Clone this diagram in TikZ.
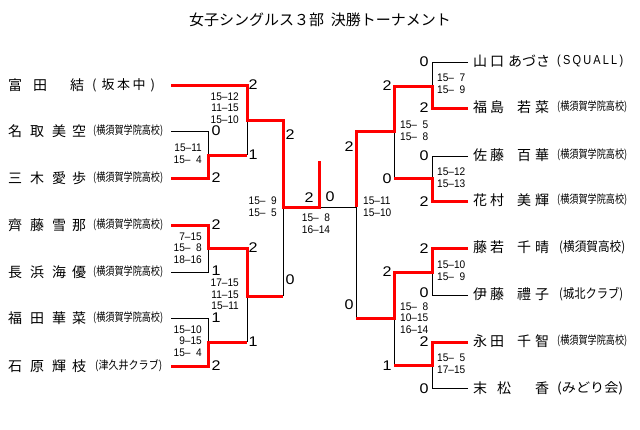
\documentclass[tikz,border=0pt]{standalone}
\usepackage{fontspec}
\usepackage{graphicx}
\setmainfont{Liberation Sans}
\newfontfamily\jp{Noto Sans CJK JP}
\newfontfamily\scfont[FakeStretch=0.92]{Liberation Sans}
\newfontfamily\wnfont[FakeStretch=1.15]{Liberation Sans}
\newcommand\slot[2]{\makebox[#1][l]{#2}}
\newcommand\fitw[2]{\resizebox{#1}{\height}{#2}}
\tikzset{
  bl/.style={draw=black, line width=1pt},
  rd/.style={draw=red, line width=3pt, line join=miter},
  nm/.style={anchor=west, inner sep=0pt, font=\jp\fontsize{14}{14}\selectfont},
  af/.style={anchor=west, inner sep=0pt, font=\jp\fontsize{11.5}{12}\selectfont},
  afb/.style={anchor=west, inner sep=0pt, font=\jp\fontsize{13}{13}\selectfont},
  wn/.style={inner sep=0pt, font=\wnfont\fontsize{14}{14}\selectfont},
  scL/.style={anchor=east, align=right, inner sep=0pt, font=\scfont\fontsize{11}{11.7}\selectfont},
  scR/.style={anchor=west, align=left, inner sep=0pt, font=\scfont\fontsize{11}{11.7}\selectfont},
  scC/.style={align=center, inner sep=0pt, font=\scfont\fontsize{11}{11.7}\selectfont},
}
\begin{document}
\begin{tikzpicture}[x=1pt,y=-1pt]
\fill[white] (0,0) rectangle (640,429);
\useasboundingbox (0,0) rectangle (640,429);

\node[font=\jp\fontsize{15}{15}\selectfont, inner sep=0pt] (title) at (320,20) {女子シングルス３部\hspace{0.45em}決勝トーナメント};

% ---------- coordinates, left half
\foreach \n/\y in {1/85,2/131,3/178,4/225,5/272,6/318,7/366}{
  \coordinate (A\n) at (171,\y);
  \coordinate (B\n) at (208,\y);
}
\coordinate (BM1) at (208,155);
\coordinate (BM2) at (208,248);
\coordinate (BM3) at (208,342);
\coordinate (C1) at (247,85);
\coordinate (CQ1) at (247,120);
\coordinate (CM1) at (247,155);
\coordinate (CM2) at (247,248);
\coordinate (CQ2) at (247,296);
\coordinate (CM3) at (247,342);
\coordinate (D1) at (283,120);
\coordinate (D2) at (283,296);
\coordinate (DS) at (283,207);
\coordinate (F) at (319,207);
\coordinate (FT) at (319,161);
% ---------- coordinates, right half
\coordinate (ES) at (356,207);
\coordinate (E1) at (356,131);
\coordinate (E2) at (356,318);
\coordinate (G1) at (394,86);
\coordinate (GQ1) at (394,131);
\coordinate (G2) at (394,178);
\coordinate (G3) at (394,272);
\coordinate (GQ2) at (394,318);
\coordinate (G4) at (394,365);
\foreach \n/\y in {1/62,2/108,3/156,4/201,5/248,6/295,7/342,8/388}{
  \coordinate (H\n) at (432,\y);
  \coordinate (K\n) at (468,\y);
}
\coordinate (HM1) at (432,86);
\coordinate (HM2) at (432,178);
\coordinate (HM3) at (432,272);
\coordinate (HM4) at (432,365);

% ---------- black lines
\draw[bl] (A2) -- (B2) -- (BM1);
\draw[bl] (CQ1) -- (CM1);
\draw[bl] (A5) -- (B5) -- (BM2);
\draw[bl] (A6) -- (B6) -- (BM3);
\draw[bl] (CQ2) -- (CM3);
\draw[bl] (D2) -- (DS);
\draw[bl] (F) -- (ES);
\draw[bl] (ES) -- (E2);
\draw[bl] (K1) -- (H1) -- (HM1);
\draw[bl] (K3) -- (H3) -- (HM2);
\draw[bl] (G2) -- (GQ1);
\draw[bl] (K6) -- (H6) -- (HM3);
\draw[bl] (K8) -- (H8) -- (HM4);
\draw[bl] (G4) -- (GQ2);

% ---------- red lines
\draw[rd] (A1) -- (C1) -- (CQ1) -- (D1) -- (DS) -- (F) -- (FT);
\draw[rd] (A3) -- (B3) -- (BM1) -- (CM1);
\draw[rd] (A4) -- (B4) -- (BM2) -- (CM2) -- (CQ2) -- (D2);
\draw[rd] (A7) -- (B7) -- (BM3) -- (CM3);
\draw[rd] (K2) -- (H2) -- (HM1) -- (G1) -- (GQ1) -- (E1) -- (ES);
\draw[rd] (K4) -- (H4) -- (HM2) -- (G2);
\draw[rd] (K5) -- (H5) -- (HM3) -- (G3) -- (GQ2) -- (E2);
\draw[rd] (K7) -- (H7) -- (HM4) -- (G4);

% ---------- names, left
\node[nm] (n1) at (8,85) {\slot{25pt}{富}\slot{37pt}{田}結};
\node[afb] (a1) at (92,85) {(\hspace{5pt}坂\hspace{2.5pt}本\hspace{2.5pt}中\hspace{5pt})};
\node[nm] (n2) at (8,131) {\slot{22pt}{名}\slot{22pt}{取}\slot{20pt}{美}空};
\node[af] (a2) at (93,131) {\fitw{70pt}{(横須賀学院高校)}};
\node[nm] (n3) at (8,178) {\slot{22pt}{三}\slot{22pt}{木}\slot{20pt}{愛}歩};
\node[af] (a3) at (93,178) {\fitw{70pt}{(横須賀学院高校)}};
\node[nm] (n4) at (8,225) {\slot{22pt}{齊}\slot{22pt}{藤}\slot{20pt}{雪}那};
\node[af] (a4) at (93,225) {\fitw{70pt}{(横須賀学院高校)}};
\node[nm] (n5) at (8,272) {\slot{22pt}{長}\slot{22pt}{浜}\slot{20pt}{海}優};
\node[af] (a5) at (93,272) {\fitw{70pt}{(横須賀学院高校)}};
\node[nm] (n6) at (8,318) {\slot{22pt}{福}\slot{22pt}{田}\slot{20pt}{華}菜};
\node[af] (a6) at (93,318) {\fitw{70pt}{(横須賀学院高校)}};
\node[nm] (n7) at (8,366) {\slot{22pt}{石}\slot{22pt}{原}\slot{20pt}{輝}枝};
\node[af] (a7) at (95,366) {\fitw{67pt}{(津久井クラブ)}};

% ---------- names, right
\node[nm] (m1) at (473,61) {\slot{17pt}{山}\slot{18pt}{口}あづさ};
\node[anchor=west, inner sep=0pt, font=\fontsize{13}{13}\selectfont] (b1) at (557,61) {\fitw{66pt}{\addfontfeature{LetterSpace=20}(SQUALL)}};
\node[nm] (m2) at (473,107) {\slot{17pt}{福}\slot{27pt}{島}\slot{18pt}{若}菜};
\node[af] (b2) at (557,107) {\fitw{70pt}{(横須賀学院高校)}};
\node[nm] (m3) at (473,155) {\slot{17pt}{佐}\slot{27pt}{藤}\slot{18pt}{百}華};
\node[af] (b3) at (557,155) {\fitw{70pt}{(横須賀学院高校)}};
\node[nm] (m4) at (473,200) {\slot{17pt}{花}\slot{27pt}{村}\slot{18pt}{美}輝};
\node[af] (b4) at (557,200) {\fitw{70pt}{(横須賀学院高校)}};
\node[nm] (m5) at (473,247) {\slot{17pt}{藤}\slot{27pt}{若}\slot{18pt}{千}晴};
\node[afb] (b5) at (559,247) {\fitw{66pt}{(横須賀高校)}};
\node[nm] (m6) at (473,294) {\slot{17pt}{伊}\slot{27pt}{藤}\slot{18pt}{禮}子};
\node[afb] (b6) at (559,294) {\fitw{64pt}{(城北クラブ)}};
\node[nm] (m7) at (473,341) {\slot{17pt}{永}\slot{27pt}{田}\slot{18pt}{千}智};
\node[af] (b7) at (557,341) {\fitw{70pt}{(横須賀学院高校)}};
\node[nm] (m8) at (473,388) {\slot{24pt}{末}\slot{38pt}{松}香};
\node[afb] (b8) at (557,388) {\fitw{66pt}{(みどり会)}};

% ---------- game counts, left
\node[wn] (w1) at (253,85) {2};
\node[wn] (w2) at (216,131) {0};
\node[wn] (w3) at (253,155) {1};
\node[wn] (w4) at (216,178) {2};
\node[wn] (w5) at (290,135) {2};
\node[wn] (w6) at (216,225) {2};
\node[wn] (w7) at (253,248) {2};
\node[wn] (w8) at (216,271) {1};
\node[wn] (w9) at (290,280) {0};
\node[wn] (w10) at (216,318) {1};
\node[wn] (w11) at (253,342) {1};
\node[wn] (w12) at (216,366) {2};
\node[wn] (w13) at (309,198) {2};
\node[wn] (w14) at (330,197) {0};
% ---------- game counts, right
\node[wn] (v1) at (424,62) {0};
\node[wn] (v2) at (424,108) {2};
\node[wn] (v3) at (387,86) {2};
\node[wn] (v4) at (349,147) {2};
\node[wn] (v5) at (424,156) {0};
\node[wn] (v6) at (387,179) {0};
\node[wn] (v7) at (424,202) {2};
\node[wn] (v8) at (424,249) {2};
\node[wn] (v9) at (387,272) {2};
\node[wn] (v10) at (424,293) {0};
\node[wn] (v11) at (349,305) {0};
\node[wn] (v12) at (424,342) {2};
\node[wn] (v13) at (387,366) {1};
\node[wn] (v14) at (424,389) {0};

% ---------- set scores
\node[scL] (s1) at (239,108) {15–12\\11–15\\15–10};
\node[scL] (s2) at (202,154) {15–11\\15–\hphantom{0}4};
\node[scL] (s3) at (202,248) {7–15\\15–\hphantom{0}8\\18–16};
\node[scL] (s4) at (239,294.5) {17–15\\11–15\\15–11};
\node[scL] (s5) at (202,341) {15–10\\9–15\\15–\hphantom{0}4};
\node[scL] (s6) at (277,207) {15–\hphantom{0}9\\15–\hphantom{0}5};
\node[scC] (s7) at (316,223.5) {15–\hphantom{0}8\\16–14};
\node[scR] (t1) at (437,84) {15–\hphantom{0}7\\15–\hphantom{0}9};
\node[scR] (t2) at (400,131) {15–\hphantom{0}5\\15–\hphantom{0}8};
\node[scR] (t3) at (437,177.5) {15–12\\15–13};
\node[scR] (t4) at (363,207) {15–11\\15–10};
\node[scR] (t5) at (437,271) {15–10\\15–\hphantom{0}9};
\node[scR] (t6) at (400,318) {15–\hphantom{0}8\\10–15\\16–14};
\node[scR] (t7) at (437,364) {15–\hphantom{0}5\\17–15};
\end{tikzpicture}
\end{document}
